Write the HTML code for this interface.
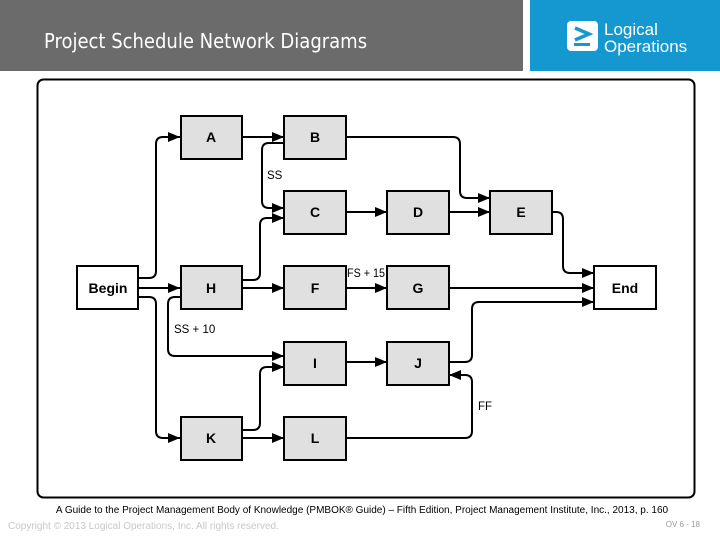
<!DOCTYPE html>
<html><head><meta charset="utf-8"><style>
body{margin:0;width:720px;height:540px;background:#fff;overflow:hidden;position:relative;font-family:"Liberation Sans",sans-serif}
.hd{position:absolute;left:0;top:0;width:523px;height:71px;background:#6b6b6b}
.hd span{position:absolute;left:44px;top:29px;color:#fff;font-size:20px;font-family:"DejaVu Sans Condensed","Liberation Sans Narrow","Liberation Sans",sans-serif}
.lg{position:absolute;left:530px;top:0;width:190px;height:71px;background:#1598cf}
</style></head><body>
<div class="hd"><span>Project Schedule Network Diagrams</span></div>
<div class="lg">
<svg width="190" height="71"><rect x="37" y="21" width="31" height="30" rx="4" fill="#fff"/>
<path d="M45 28 L59 34 L45 40" stroke="#1598cf" stroke-width="3.5" fill="none"/><rect x="44" y="43" width="16" height="3" fill="#1598cf"/>
<text x="74" y="35" fill="#fff" font-size="17" font-family="Liberation Sans">Logical</text>
<text x="74" y="52" fill="#fff" font-size="17" font-family="Liberation Sans">Operations</text></svg></div>
<svg width="720" height="540" style="position:absolute;left:0;top:0" font-family="Liberation Sans,sans-serif">
<defs><marker id="a" markerWidth="12" markerHeight="10" refX="12" refY="5" orient="auto" markerUnits="userSpaceOnUse"><path d="M0 0 L12 5 L0 10z" fill="#000"/></marker></defs>
<rect x="37.5" y="79.5" width="657" height="418" rx="6" fill="none" stroke="#000" stroke-width="2"/>
<g fill="none" stroke="#000" stroke-width="2" marker-end="url(#a)">
<path d="M138 278 H149 Q156 278 156 271 V144 Q156 137 163 137 H180"/>
<path d="M138 288 H180"/>
<path d="M138 297 H149 Q156 297 156 304 V431 Q156 438 163 438 H180"/>
<path d="M242 137 H284"/>
<path d="M284 143 H269 Q262 143 262 150 V201 Q262 208 269 208 H284"/>
<path d="M242 280 H253 Q260 280 260 273 V225 Q260 218 267 218 H284"/>
<path d="M242 288 H284"/>
<path d="M180 297 H175 Q168 297 168 304 V349 Q168 356 175 356 H284"/>
<path d="M242 430 H253 Q260 430 260 423 V374 Q260 367 267 367 H284"/>
<path d="M242 438 H284"/>
<path d="M346 137 H453 Q460 137 460 144 V191 Q460 198 467 198 H490"/>
<path d="M346 212 H387"/>
<path d="M449 212 H490"/>
<path d="M552 212 H556 Q563 212 563 219 V266 Q563 273 570 273 H594"/>
<path d="M346 288 H387"/>
<path d="M449 288 H594"/>
<path d="M449 362 H465 Q472 362 472 355 V309 Q472 302 479 302 H594"/>
<path d="M346 362 H387"/>
<path d="M346 438 H465 Q472 438 472 431 V382 Q472 375 465 375 H449"/>
</g>
<g stroke="#000" stroke-width="2" font-weight="bold" font-size="14" text-anchor="middle">
<rect x="77" y="266" width="61" height="43" fill="#fff"/>
<rect x="594" y="266" width="62" height="43" fill="#fff"/>
<g fill="#e0e0e0">
<rect x="181" y="116" width="61" height="43"/><rect x="284" y="116" width="62" height="43"/>
<rect x="284" y="191" width="62" height="43"/><rect x="387" y="191" width="62" height="43"/><rect x="490" y="191" width="62" height="43"/>
<rect x="181" y="266" width="61" height="43"/><rect x="284" y="266" width="62" height="43"/><rect x="387" y="266" width="62" height="43"/>
<rect x="284" y="342" width="62" height="43"/><rect x="387" y="342" width="62" height="43"/>
<rect x="181" y="417" width="61" height="43"/><rect x="284" y="417" width="62" height="43"/>
</g>
<g stroke="none" fill="#000">
<text x="108" y="293">Begin</text><text x="625" y="293">End</text>
<text x="211" y="142">A</text><text x="315" y="142">B</text>
<text x="315" y="217">C</text><text x="418" y="217">D</text><text x="521" y="217">E</text>
<text x="211" y="293">H</text><text x="315" y="293">F</text><text x="418" y="293">G</text>
<text x="315" y="368">I</text><text x="418" y="368">J</text>
<text x="211" y="443">K</text><text x="315" y="443">L</text>
</g></g>
<g font-size="11.5" fill="#000">
<text x="267" y="179">SS</text><text x="347" y="277" textLength="38" lengthAdjust="spacingAndGlyphs">FS + 15</text>
<text x="174" y="333">SS + 10</text><text x="478" y="410">FF</text>
</g>
<text x="362" y="513" font-size="10" text-anchor="middle">A Guide to the Project Management Body of Knowledge (PMBOK® Guide) – Fifth Edition, Project Management Institute, Inc., 2013, p. 160</text>
<text x="8" y="529" font-size="10" fill="#c8c8c8">Copyright © 2013 Logical Operations, Inc. All rights reserved.</text>
<text x="700" y="527" font-size="8" fill="#999" text-anchor="end">OV 6 - 18</text>
</svg>
</body></html>
